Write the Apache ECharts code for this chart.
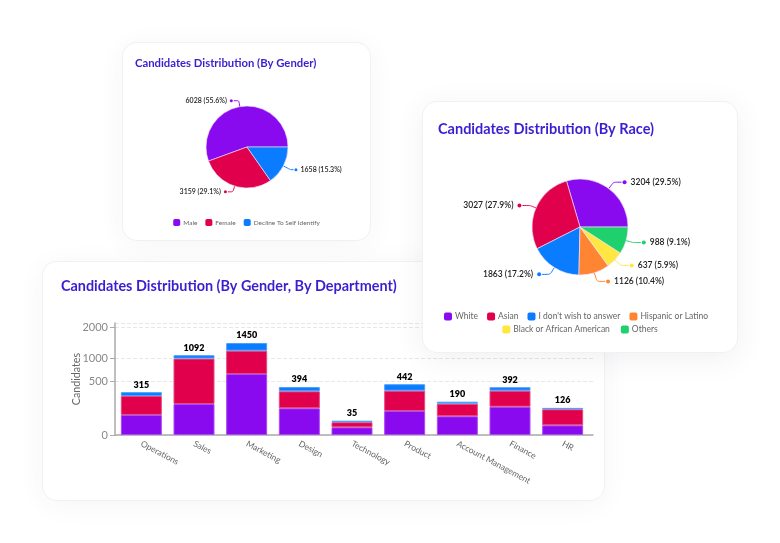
<!DOCTYPE html>
<html>
<head>
<meta charset="utf-8">
<script src="https://cdn.jsdelivr.net/npm/echarts@6/dist/echarts.min.js"></script>
<style>
  html, body { margin: 0; padding: 0; background: #fff; }
  body { width: 780px; height: 543px; position: relative; overflow: hidden; }
  .card { position: absolute; background: #fff; border-radius: 14px; box-shadow: 0 0 0 1px #f1f1f3, 0 4px 28px rgba(60,60,90,.05); }
  #barCard { left: 43px; top: 262px; width: 561px; height: 238px; }
  #genderCard { left: 123px; top: 43px; width: 247px; height: 197px; }
  #raceCard { left: 423px; top: 102px; width: 314px; height: 250px; box-shadow: 0 0 0 1px #f1f1f3, 0 6px 30px rgba(60,60,90,.08); }
</style>
</head>
<body>
<div class="card" id="barCard"></div>
<div class="card" id="genderCard"></div>
<div class="card" id="raceCard"></div>
<script>
var PURPLE = '#8a0af0', RED = '#e0004b', BLUE = '#0a7cff', ORANGE = '#ff8533', YELLOW = '#ffe640', GREEN = '#1fd16c';
var TITLE = '#3a1fd0', FONT = 'Lato';

var genderNames = ['Male', 'Female', 'Decline To Self Identify'];
var genderValues = [6028, 3159, 1658];
var genderPercents = ['55.6', '29.1', '15.3'];

var raceNames = ['White', 'Asian', "I don't wish to answer", 'Hispanic or Latino', 'Black or African American', 'Others'];
var raceValues = [3204, 3027, 1863, 1126, 637, 988];
var racePercents = ['29.5', '27.9', '17.2', '10.4', '5.9', '9.1'];

var departments = ['Operations', 'Sales', 'Marketing', 'Design', 'Technology', 'Product', 'Account Management', 'Finance', 'HR'];
var maleByDept = [69, 165, 638, 122, 10, 99, 60, 137, 16];
var femaleByDept = [192, 835, 581, 205, 18, 238, 108, 200, 97];
var declineByDept = [54, 92, 231, 67, 7, 105, 22, 55, 13];
var deptTotals = [315, 1092, 1450, 394, 35, 442, 190, 392, 126];
var yTicks = [0, 500, 1000, 2000];
var yTop = 2150;

// the y axis in the picture is a square root scale, so the stack is drawn on sqrt of the running total
function sqrtSeg(i, parts) {
    var below = 0;
    for (var k = 0; k < parts.length - 1; k++) below += parts[k][i];
    return Math.sqrt(below + parts[parts.length - 1][i]) - Math.sqrt(below);
}
function dotLabel(text, color, dotFirst, size) {
    return {
        formatter: dotFirst ? '{d|}{g|}{t|' + text + '}' : '{t|' + text + '}{g|}{d|}',
        rich: {
            t: { fontFamily: FONT, fontSize: size, color: '#222', fontWeight: 600 },
            g: { width: size > 8 ? 4 : 3 },
            d: { width: size > 8 ? 4 : 3, height: size > 8 ? 4 : 3, borderRadius: 2, backgroundColor: color }
        }
    };
}
function pieData(names, values, percents, colors, lines, dotFirst, size) {
    return names.map(function (n, i) {
        return {
            name: n, value: values[i],
            itemStyle: { color: colors[i] },
            label: dotLabel(values[i] + ' (' + percents[i] + '%)', colors[i], dotFirst[i], size),
            labelLine: { length: lines[i][0], length2: lines[i][1], smooth: 0.15, lineStyle: { color: colors[i], width: 1 } }
        };
    });
}

var genderColors = [PURPLE, RED, BLUE];
var genderChart = echarts.init(document.getElementById('genderCard'));
genderChart.setOption({
    animation: false,
    title: { text: 'Candidates Distribution (By Gender)', left: 7, top: 10, textStyle: { fontFamily: FONT, fontSize: 11.3, fontWeight: 700, color: TITLE } },
    legend: {
        bottom: 9, left: 'center', itemWidth: 7, itemHeight: 7, itemGap: 8, icon: 'roundRect',
        itemStyle: { borderWidth: 0 },
        data: genderNames, textStyle: { fontFamily: FONT, fontSize: 6.5, color: '#666', padding: [0, 0, 0, -2] }
    },
    series: [{
        type: 'pie', center: [124, 104], radius: [0, 41], startAngle: 0, clockwise: false,
        avoidLabelOverlap: false,
        itemStyle: { borderColor: '#f3e6ff', borderWidth: 0.6 },
        label: { distanceToLabelLine: 1 },
        data: pieData(genderNames, genderValues, genderPercents, genderColors, [[6, 5], [6, 5], [8, 3]], [false, false, true], 7)
    }]
});

var raceColors = [PURPLE, RED, BLUE, ORANGE, YELLOW, GREEN];
var raceChart = echarts.init(document.getElementById('raceCard'));
raceChart.setOption({
    animation: false,
    title: { text: 'Candidates Distribution (By Race)', left: 10, top: 15, textStyle: { fontFamily: FONT, fontSize: 14.5, fontWeight: 700, color: TITLE } },
    legend: [{
        top: 205, left: 16, itemWidth: 8, itemHeight: 8, itemGap: 9, icon: 'roundRect',
        itemStyle: { borderWidth: 0 },
        data: raceNames.slice(0, 4), textStyle: { fontFamily: FONT, fontSize: 8.5, color: '#666', padding: [0, 0, 0, -2] }
    }, {
        top: 218, left: 'center', itemWidth: 8, itemHeight: 8, itemGap: 11, icon: 'roundRect',
        itemStyle: { borderWidth: 0 },
        data: raceNames.slice(4), textStyle: { fontFamily: FONT, fontSize: 8.5, color: '#666', padding: [0, 0, 0, -2] }
    }],
    series: [{
        type: 'pie', center: [157, 125], radius: [0, 48], startAngle: 0, clockwise: false,
        avoidLabelOverlap: false,
        itemStyle: { borderColor: '#f3e6ff', borderWidth: 0.6 },
        label: { distanceToLabelLine: 1 },
        data: pieData(raceNames, raceValues, racePercents, raceColors,
            [[8, 8], [6, 8], [8, 8], [9, 8], [8, 8], [7, 8]],
            [true, false, false, true, true, true], 8.5)
    }]
});

var parts = [maleByDept, femaleByDept, declineByDept];
function barSeries(name, color, edge, count) {
    return {
        name: name, type: 'bar', stack: 'total', barWidth: 41,
        itemStyle: { color: color, borderColor: edge, borderWidth: 1 },
        data: departments.map(function (d, i) { return sqrtSeg(i, parts.slice(0, count)); })
    };
}
var topBars = barSeries('Decline To Self Identify', BLUE, '#4aa0ff', 3);
topBars.label = {
    show: true, position: 'top', distance: 3,
    fontFamily: FONT, fontSize: 9, fontWeight: 800, color: '#000',
    formatter: function (p) { return deptTotals[p.dataIndex]; }
};
var barChart = echarts.init(document.getElementById('barCard'));
barChart.setOption({
    animation: false,
    title: { text: 'Candidates Distribution (By Gender, By Department)', left: 13, top: 12, textStyle: { fontFamily: FONT, fontSize: 14.4, fontWeight: 700, color: TITLE } },
    // second grid is a bit wider, it only carries the baseline and the dashed lines that run past the last bar
    grid: [
        { left: 72, top: 61, width: 474, height: 112 },
        { left: 72, top: 61, width: 478, height: 112 }
    ],
    xAxis: [{
        type: 'category', data: departments, gridIndex: 0,
        axisLine: { show: false },
        axisTick: { show: false },
        axisLabel: { rotate: -28, interval: 0, margin: 8, fontFamily: FONT, fontSize: 8.5, color: '#666' }
    }, {
        type: 'value', gridIndex: 1, min: 0, max: 1,
        axisLine: { show: true, lineStyle: { color: '#aaa', width: 1.5 } },
        axisTick: { show: false }, axisLabel: { show: false }, splitLine: { show: false }
    }],
    yAxis: [{
        type: 'value', gridIndex: 0, min: 0, max: Math.sqrt(yTop),
        name: 'Candidates', nameLocation: 'middle', nameGap: 33, nameRotate: 90, nameMoveOverlap: false,
        nameTextStyle: { fontFamily: FONT, fontSize: 10.7, color: '#666' },
        axisLine: { show: true, lineStyle: { color: '#aaa', width: 1.5 } },
        axisTick: { show: true, length: 5, lineStyle: { color: '#aaa' }, customValues: yTicks.map(Math.sqrt) },
        axisLabel: {
            margin: 7, fontFamily: FONT, fontSize: 11, color: '#888',
            customValues: yTicks.map(Math.sqrt),
            formatter: function (v) { return String(Math.round(v * v)); }
        },
        splitLine: { show: false }
    }, {
        type: 'value', gridIndex: 1, min: 0, max: Math.sqrt(yTop),
        axisLine: { show: false }, axisLabel: { show: false },
        axisTick: { show: false, customValues: yTicks.concat([yTop]).map(Math.sqrt) },
        splitLine: { show: true, lineStyle: { color: '#e8e8e8', type: 'dashed', width: 1 } }
    }],
    series: [barSeries('Male', PURPLE, '#a94bf5', 1), barSeries('Female', RED, '#e64a80', 2), topBars]
});
</script>
</body>
</html>
